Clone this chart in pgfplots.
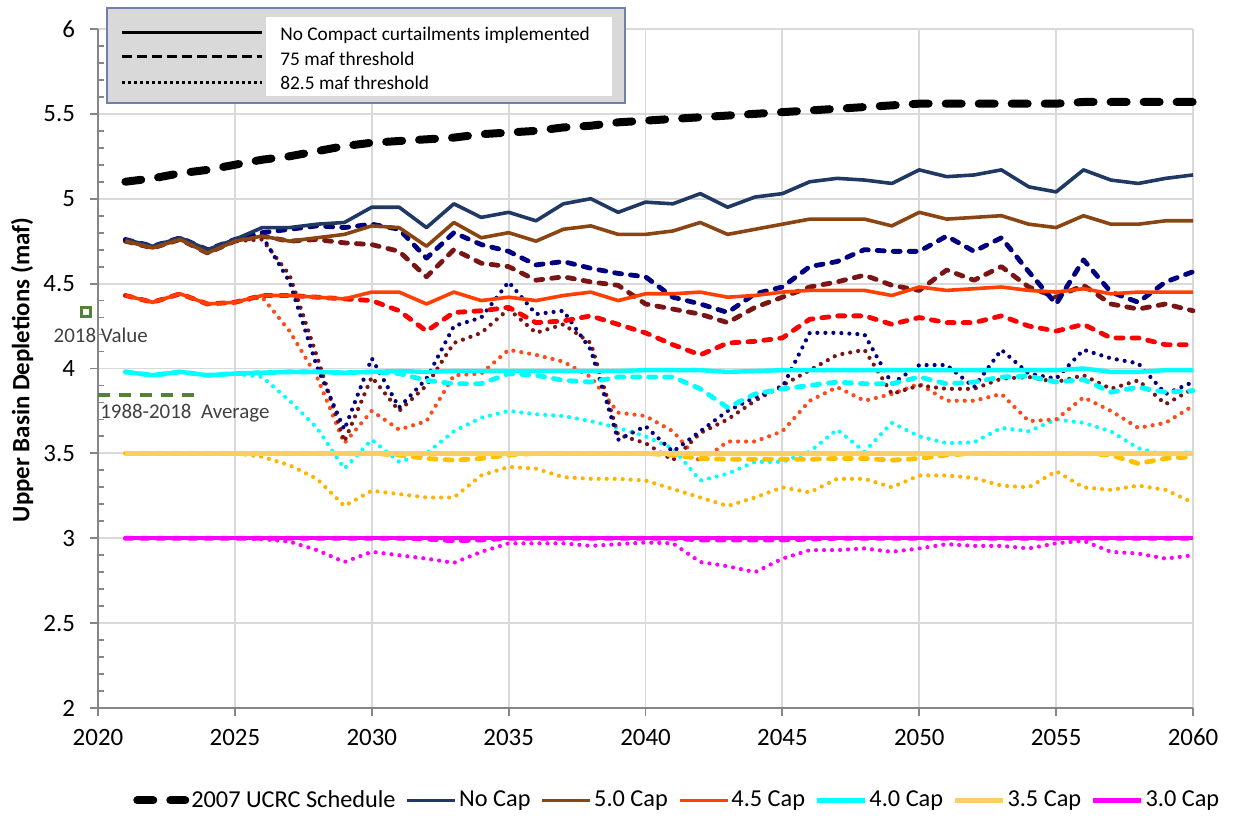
\documentclass[border=0pt]{standalone}
\usepackage{fontspec}
\setmainfont{Carlito}
\usepackage{pgfplots}
\pgfplotsset{compat=1.18}
\usepackage{pgfplotstable}

\definecolor{navyS}{HTML}{1F3864}
\definecolor{navyD}{HTML}{000080}
\definecolor{brownS}{HTML}{8B4513}
\definecolor{maroonD}{HTML}{7B1414}
\definecolor{orS}{HTML}{FF4000}
\definecolor{redD}{HTML}{FF0000}
\definecolor{orT}{HTML}{FF4A1A}
\definecolor{cyanC}{HTML}{00FFFF}
\definecolor{ambS}{HTML}{FFCC66}
\definecolor{ambD}{HTML}{FFC000}
\definecolor{ambT}{HTML}{FFB300}
\definecolor{magC}{HTML}{FF00FF}
\definecolor{grn}{HTML}{548235}
\definecolor{gridc}{HTML}{D9D9D9}
\definecolor{axc}{HTML}{868686}
\definecolor{boxc}{HTML}{7080A8}

\tikzset{
  sol/.style={line width=1.8bp, line join=round},
  dsh/.style={line width=2.4bp, dash pattern=on 3.5bp off 4.5bp, line cap=round, line join=round},
  dot/.style={line width=2.1bp, dash pattern=on 0bp off 4bp, line cap=round},
}

% year, s = no curtailment, d = 75 maf threshold, t = 82.5 maf threshold
\pgfplotstableread{
year s d t
2021 4.76 4.76 4.76
2022 4.72 4.72 4.72
2023 4.77 4.77 4.77
2024 4.70 4.70 4.70
2025 4.76 4.76 4.76
2026 4.83 4.80 4.78
2027 4.83 4.82 4.51
2028 4.85 4.84 4.01
2029 4.86 4.83 3.64
2030 4.95 4.85 4.06
2031 4.95 4.82 3.77
2032 4.83 4.65 3.94
2033 4.97 4.80 4.25
2034 4.89 4.73 4.30
2035 4.92 4.69 4.51
2036 4.87 4.61 4.32
2037 4.97 4.63 4.34
2038 5.00 4.59 4.11
2039 4.92 4.56 3.58
2040 4.98 4.54 3.66
2041 4.97 4.42 3.51
2042 5.03 4.38 3.63
2043 4.95 4.33 3.75
2044 5.01 4.44 3.83
2045 5.03 4.48 3.89
2046 5.10 4.60 4.21
2047 5.12 4.63 4.21
2048 5.11 4.70 4.20
2049 5.09 4.69 3.91
2050 5.17 4.69 4.02
2051 5.13 4.78 4.02
2052 5.14 4.69 3.89
2053 5.17 4.77 4.11
2054 5.07 4.57 3.97
2055 5.04 4.38 3.94
2056 5.17 4.64 4.11
2057 5.11 4.45 4.06
2058 5.09 4.39 4.03
2059 5.12 4.51 3.85
2060 5.14 4.57 3.92
}\nocap

\pgfplotstableread{
year s d t
2021 4.75 4.75 4.75
2022 4.71 4.71 4.71
2023 4.76 4.76 4.76
2024 4.68 4.68 4.68
2025 4.75 4.75 4.75
2026 4.78 4.78 4.76
2027 4.75 4.75 4.55
2028 4.77 4.76 4.07
2029 4.79 4.74 3.57
2030 4.84 4.73 3.95
2031 4.83 4.69 3.75
2032 4.72 4.54 3.90
2033 4.86 4.70 4.15
2034 4.77 4.62 4.21
2035 4.80 4.60 4.35
2036 4.75 4.52 4.21
2037 4.82 4.54 4.26
2038 4.84 4.51 4.15
2039 4.79 4.49 3.61
2040 4.79 4.38 3.56
2041 4.81 4.35 3.46
2042 4.86 4.32 3.62
2043 4.79 4.27 3.70
2044 4.82 4.36 3.81
2045 4.85 4.42 3.90
2046 4.88 4.48 3.99
2047 4.88 4.51 4.08
2048 4.88 4.55 4.11
2049 4.84 4.49 3.85
2050 4.92 4.46 3.90
2051 4.88 4.58 3.88
2052 4.89 4.52 3.88
2053 4.90 4.60 3.94
2054 4.85 4.48 3.95
2055 4.83 4.42 3.92
2056 4.90 4.49 3.96
2057 4.85 4.38 3.88
2058 4.85 4.35 3.93
2059 4.87 4.38 3.79
2060 4.87 4.34 3.88
}\capfive

\pgfplotstableread{
year s d t
2021 4.43 4.43 4.43
2022 4.39 4.39 4.39
2023 4.44 4.44 4.44
2024 4.38 4.38 4.38
2025 4.39 4.39 4.39
2026 4.43 4.43 4.42
2027 4.43 4.43 4.22
2028 4.42 4.42 3.95
2029 4.41 4.41 3.56
2030 4.45 4.40 3.75
2031 4.45 4.34 3.64
2032 4.38 4.22 3.69
2033 4.45 4.33 3.96
2034 4.40 4.34 3.97
2035 4.42 4.36 4.11
2036 4.40 4.27 4.08
2037 4.43 4.28 4.04
2038 4.45 4.31 3.95
2039 4.40 4.26 3.74
2040 4.44 4.21 3.72
2041 4.44 4.14 3.63
2042 4.45 4.08 3.45
2043 4.42 4.15 3.57
2044 4.43 4.16 3.57
2045 4.45 4.18 3.63
2046 4.46 4.29 3.81
2047 4.46 4.31 3.89
2048 4.46 4.31 3.81
2049 4.43 4.26 3.85
2050 4.48 4.30 3.91
2051 4.46 4.27 3.81
2052 4.47 4.27 3.81
2053 4.48 4.31 3.85
2054 4.46 4.25 3.69
2055 4.45 4.22 3.70
2056 4.47 4.26 3.83
2057 4.44 4.18 3.75
2058 4.45 4.18 3.65
2059 4.45 4.14 3.68
2060 4.45 4.14 3.78
}\capfourfive

\pgfplotstableread{
year s d t
2021 3.98 3.98 3.98
2022 3.96 3.96 3.96
2023 3.98 3.98 3.98
2024 3.96 3.96 3.96
2025 3.97 3.97 3.97
2026 3.975 3.975 3.95
2027 3.98 3.98 3.81
2028 3.98 3.98 3.65
2029 3.975 3.975 3.41
2030 3.98 3.98 3.58
2031 3.985 3.97 3.45
2032 3.98 3.93 3.50
2033 3.985 3.91 3.63
2034 3.985 3.91 3.71
2035 3.985 3.97 3.75
2036 3.985 3.96 3.73
2037 3.985 3.93 3.72
2038 3.985 3.92 3.69
2039 3.985 3.95 3.65
2040 3.99 3.95 3.60
2041 3.99 3.95 3.53
2042 3.99 3.88 3.34
2043 3.98 3.77 3.38
2044 3.985 3.85 3.45
2045 3.99 3.88 3.45
2046 3.99 3.90 3.51
2047 3.99 3.92 3.64
2048 3.99 3.91 3.51
2049 3.99 3.91 3.68
2050 3.99 3.95 3.60
2051 3.99 3.91 3.56
2052 3.99 3.92 3.565
2053 3.99 3.95 3.65
2054 3.99 3.955 3.63
2055 3.99 3.92 3.70
2056 4.00 3.935 3.68
2057 3.98 3.86 3.63
2058 3.98 3.89 3.53
2059 3.99 3.86 3.49
2060 3.99 3.87 3.51
}\capfour

\pgfplotstableread{
year s d t
2021 3.50 3.50 3.50
2022 3.50 3.50 3.50
2023 3.50 3.50 3.50
2024 3.50 3.50 3.50
2025 3.50 3.50 3.50
2026 3.50 3.50 3.48
2027 3.50 3.50 3.43
2028 3.50 3.50 3.35
2029 3.50 3.50 3.19
2030 3.50 3.50 3.28
2031 3.50 3.49 3.26
2032 3.50 3.47 3.24
2033 3.50 3.46 3.24
2034 3.50 3.47 3.37
2035 3.50 3.49 3.42
2036 3.50 3.50 3.41
2037 3.50 3.50 3.36
2038 3.50 3.50 3.35
2039 3.50 3.50 3.35
2040 3.50 3.50 3.34
2041 3.50 3.49 3.29
2042 3.50 3.47 3.24
2043 3.50 3.465 3.19
2044 3.50 3.465 3.24
2045 3.50 3.465 3.30
2046 3.50 3.465 3.27
2047 3.50 3.47 3.35
2048 3.50 3.47 3.35
2049 3.50 3.46 3.30
2050 3.50 3.47 3.37
2051 3.50 3.49 3.37
2052 3.50 3.50 3.355
2053 3.50 3.50 3.31
2054 3.50 3.50 3.30
2055 3.50 3.50 3.395
2056 3.50 3.50 3.30
2057 3.50 3.49 3.285
2058 3.50 3.44 3.31
2059 3.50 3.47 3.285
2060 3.50 3.48 3.21
}\capthreefive

\pgfplotstableread{
year s d t
2021 3.00 3.00 3.00
2022 3.00 3.00 3.00
2023 3.00 3.00 3.00
2024 3.00 3.00 3.00
2025 3.00 3.00 3.00
2026 3.00 3.00 2.995
2027 3.00 3.00 2.98
2028 3.00 3.00 2.93
2029 3.00 3.00 2.86
2030 3.00 3.00 2.92
2031 3.00 3.00 2.90
2032 3.00 2.995 2.88
2033 3.00 2.985 2.855
2034 3.00 2.99 2.92
2035 3.00 3.00 2.97
2036 3.00 3.00 2.97
2037 3.00 3.00 2.97
2038 3.00 3.00 2.955
2039 3.00 3.00 2.965
2040 3.00 3.00 2.975
2041 3.00 3.00 2.97
2042 3.00 2.99 2.86
2043 3.00 2.99 2.835
2044 3.00 2.99 2.80
2045 3.00 2.99 2.88
2046 3.00 2.995 2.93
2047 3.00 3.00 2.93
2048 3.00 3.00 2.94
2049 3.00 3.00 2.92
2050 3.00 3.00 2.94
2051 3.00 3.00 2.965
2052 3.00 3.00 2.955
2053 3.00 3.00 2.955
2054 3.00 3.00 2.94
2055 3.00 3.00 2.97
2056 3.00 3.00 2.985
2057 3.00 3.00 2.92
2058 3.00 3.00 2.91
2059 3.00 3.00 2.88
2060 3.00 3.00 2.90
}\capthree

\begin{document}
\begin{tikzpicture}
\begin{axis}[
    scale only axis,
    width=547.5bp, height=339.5bp,
    xmin=2020, xmax=2060, ymin=2, ymax=6,
    xtick={2020,2025,...,2060},
    ytick={2,2.5,...,6},
    minor y tick num=4,
    grid=major,
    major grid style={draw=gridc, line width=0.9bp},
    axis lines*=left,
    axis line style={draw=axc, line width=0.9bp},
    tick align=outside,
    major tick length=4bp,
    minor tick length=3bp,
    tick style={draw=axc, line width=0.9bp},
    minor y tick style={xshift=3bp},
    /pgf/number format/1000 sep={},
    /pgf/number format/assume math mode=true,
    ticklabel style={font=\fontsize{12.5}{14}\selectfont},
    yticklabel style={xshift=-4bp},
    xticklabel style={yshift=-3bp},
    ylabel={\textbf{Upper Basin Depletions (maf)}},
    ylabel style={at={(rel axis cs:-0.0694,0.498)}, anchor=center,
                  font=\fontsize{12.5}{14}\selectfont},
    clip=false,
    legend columns=-1,
    legend style={at={(0.529,-0.136)}, anchor=center, draw=none, fill=none,
                  font=\fontsize{12.2}{14}\selectfont, inner sep=0pt,
                  /tikz/every even column/.append style={column sep=4bp},
                  nodes={inner sep=1bp}},
    legend image code/.code={\draw[#1] (0bp,0bp) -- (24bp,0bp);},
]

% 2007 UCRC schedule
\addplot[black, line width=4bp, dash pattern=on 8bp off 8.5bp, line cap=round] coordinates {
(2021,5.10) (2022,5.12) (2023,5.15) (2024,5.17) (2025,5.20)
(2026,5.23) (2027,5.25) (2028,5.28) (2029,5.31) (2030,5.33)
(2031,5.34) (2032,5.35) (2033,5.36) (2034,5.38) (2035,5.39)
(2036,5.40) (2037,5.42) (2038,5.43) (2039,5.45) (2040,5.46)
(2041,5.47) (2042,5.48) (2043,5.49) (2044,5.50) (2045,5.51)
(2046,5.52) (2047,5.53) (2048,5.54) (2049,5.55) (2050,5.56)
(2051,5.56) (2052,5.56) (2053,5.56) (2054,5.56) (2055,5.56)
(2056,5.57) (2057,5.57) (2058,5.57) (2059,5.57) (2060,5.57)
};
\addlegendentry{2007 UCRC Schedule}

% 82.5 maf threshold (dotted)
\addplot[forget plot, magC, dot] table[x=year, y=t] {\capthree};
\addplot[forget plot, ambT, dot] table[x=year, y=t] {\capthreefive};
\addplot[forget plot, cyanC, dot] table[x=year, y=t] {\capfour};
\addplot[forget plot, orT, dot] table[x=year, y=t] {\capfourfive};
\addplot[forget plot, maroonD, dot] table[x=year, y=t] {\capfive};
\addplot[forget plot, navyD, dot] table[x=year, y=t] {\nocap};

% 75 maf threshold (dashed)
\addplot[forget plot, magC, dsh] table[x=year, y=d] {\capthree};
\addplot[forget plot, ambD, dsh] table[x=year, y=d] {\capthreefive};
\addplot[forget plot, cyanC, dsh] table[x=year, y=d] {\capfour};
\addplot[forget plot, redD, dsh] table[x=year, y=d] {\capfourfive};
\addplot[forget plot, maroonD, dsh] table[x=year, y=d] {\capfive};
\addplot[forget plot, navyD, dsh] table[x=year, y=d] {\nocap};

% no curtailment (solid)
\addplot[navyS, sol] table[x=year, y=s] {\nocap};
\addlegendentry{No Cap}
\addplot[brownS, sol] table[x=year, y=s] {\capfive};
\addlegendentry{5.0 Cap}
\addplot[orS, sol] table[x=year, y=s] {\capfourfive};
\addlegendentry{4.5 Cap}
\addplot[cyanC, sol, line width=2.2bp] table[x=year, y=s] {\capfour};
\addlegendentry{4.0 Cap}
\addplot[ambS, sol, line width=2.2bp] table[x=year, y=s] {\capthreefive};
\addlegendentry{3.5 Cap}
\addplot[magC, sol, line width=2.2bp] table[x=year, y=s] {\capthree};
\addlegendentry{3.0 Cap}

% historical reference values
\addplot[forget plot, only marks, mark=square*, grn, mark size=2.25bp,
         mark options={line width=1.5bp, fill=white}] coordinates {(2019.55,4.335)};
\addplot[forget plot, grn, line width=2bp, dash pattern=on 6bp off 4.5bp]
    coordinates {(2020,3.843) (2023.5,3.843)};
\node[text=black!75, font=\fontsize{10.5}{12}\selectfont, anchor=center]
    at (axis cs:2020.1,4.197) {2018 Value};
\node[text=black!75, font=\fontsize{10.5}{12}\selectfont, anchor=west, inner sep=0pt]
    at (axis cs:2020.07,3.737) {1988-2018\ \ Average};

% line style key
\draw[boxc, fill=gridc, line width=0.75bp]
    (rel axis cs:0.0082,1.0309) rectangle (rel axis cs:0.4813,0.891);
\fill[white] (rel axis cs:0.1534,1.0177) rectangle (rel axis cs:0.4694,0.9013);
\draw[black, line width=1.5bp] (rel axis cs:0.0219,0.9941) -- (rel axis cs:0.1498,0.9941);
\draw[black, line width=1.5bp, dash pattern=on 5bp off 2.5bp]
    (rel axis cs:0.0219,0.9588) -- (rel axis cs:0.1498,0.9588);
\draw[black, line width=1.5bp, dash pattern=on 1.4bp off 1.6bp]
    (rel axis cs:0.0219,0.9219) -- (rel axis cs:0.1498,0.9219);
\begin{scope}[every node/.style={anchor=west, inner sep=0pt, font=\fontsize{9.7}{11}\selectfont}]
\node at (rel axis cs:0.1662,0.9912) {No Compact curtailments implemented};
\node at (rel axis cs:0.1662,0.9558) {75 maf threshold};
\node at (rel axis cs:0.1662,0.9205) {82.5 maf threshold};
\end{scope}

% page extent
\path (rel axis cs:-0.0895,1.0427) (rel axis cs:1.042,-0.162);
\end{axis}
\end{tikzpicture}
\end{document}
